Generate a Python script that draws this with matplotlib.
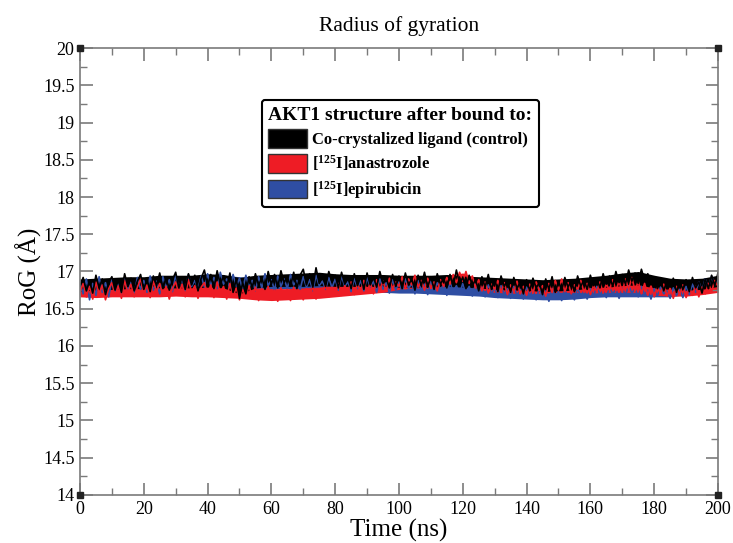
import numpy as np
import matplotlib
matplotlib.use("Agg")
import matplotlib.pyplot as plt
from matplotlib.patches import Patch
from matplotlib.ticker import MultipleLocator

plt.rcParams["font.family"] = ["Liberation Serif", "DejaVu Serif"]
plt.rcParams["mathtext.fontset"] = "custom"
plt.rcParams["mathtext.rm"] = "Liberation Serif"
plt.rcParams["mathtext.bf"] = "Liberation Serif:bold"

# --- DATA (RoG in Angstrom, one value per ns, 0..200 ns) ---
rog_control = [
    16.80, 16.92, 16.74, 16.88, 16.71, 16.95, 16.78, 16.90, 16.69, 16.86,
    16.93, 16.75, 16.89, 16.72, 16.97, 16.80, 16.91, 16.74, 16.87, 16.96,
    16.76, 16.90, 16.73, 16.94, 16.81, 16.98, 16.77, 16.92, 16.75, 16.89,
    16.99, 16.78, 16.93, 16.76, 16.97, 16.82, 16.95, 16.74, 16.91, 17.02,
    16.80, 16.96, 16.77, 17.01, 16.83, 16.94, 16.79, 16.98, 16.72, 16.90,
    16.64, 16.85, 16.70, 16.93, 16.78, 16.97, 16.81, 16.92, 16.76, 17.00,
    16.83, 16.96, 16.78, 17.01, 16.85, 16.93, 16.80, 16.99, 16.77, 16.95,
    17.03, 16.82, 16.97, 16.79, 17.05, 16.84, 16.96, 16.80, 17.00, 16.86,
    16.95, 16.78, 16.99, 16.83, 16.92, 16.77, 16.97, 16.81, 16.94, 16.76,
    16.98, 16.82, 16.93, 16.79, 17.00, 16.84, 16.91, 16.78, 16.96, 16.80,
    16.94, 16.77, 16.98, 16.82, 16.90, 16.75, 16.95, 16.81, 16.99, 16.79,
    16.93, 16.76, 16.97, 16.83, 16.91, 16.78, 16.96, 16.80, 17.02, 16.84,
    16.92, 16.77, 16.95, 16.81, 16.89, 16.74, 16.93, 16.79, 16.96, 16.76,
    16.90, 16.73, 16.94, 16.80, 16.88, 16.72, 16.92, 16.77, 16.86, 16.70,
    16.89, 16.74, 16.91, 16.78, 16.85, 16.69, 16.90, 16.76, 16.93, 16.72,
    16.87, 16.75, 16.92, 16.79, 16.88, 16.73, 16.94, 16.80, 16.89, 16.76,
    16.95, 16.81, 16.91, 16.78, 16.97, 16.83, 16.94, 16.80, 17.00, 16.85,
    16.96, 16.83, 17.02, 16.87, 16.98, 16.84, 17.03, 16.88, 16.97, 16.82,
    16.93, 16.77, 16.90, 16.74, 16.88, 16.79, 16.91, 16.72, 16.87, 16.76,
    16.89, 16.73, 16.92, 16.78, 16.86, 16.71, 16.90, 16.77, 16.95, 16.81,
    16.98,
]
rog_anastrozole = [
    16.72, 16.84, 16.66, 16.80, 16.63, 16.86, 16.70, 16.82, 16.62, 16.77,
    16.85, 16.68, 16.81, 16.64, 16.88, 16.71, 16.83, 16.66, 16.79, 16.90,
    16.69, 16.82, 16.65, 16.87, 16.73, 16.84, 16.67, 16.80, 16.63, 16.78,
    16.86, 16.70, 16.83, 16.66, 16.89, 16.72, 16.81, 16.64, 16.79, 16.85,
    16.69, 16.82, 16.65, 16.86, 16.71, 16.80, 16.63, 16.84, 16.67, 16.78,
    16.62, 16.76, 16.66, 16.81, 16.64, 16.79, 16.61, 16.77, 16.65, 16.80,
    16.63, 16.75, 16.60, 16.78, 16.64, 16.76, 16.61, 16.79, 16.66, 16.74,
    16.62, 16.77, 16.65, 16.80, 16.63, 16.76, 16.68, 16.82, 16.66, 16.79,
    16.70, 16.84, 16.68, 16.81, 16.72, 16.86, 16.69, 16.83, 16.74, 16.88,
    16.72, 16.85, 16.70, 16.89, 16.76, 16.87, 16.73, 16.91, 16.77, 16.86,
    16.80, 16.93, 16.77, 16.90, 16.82, 16.95, 16.79, 16.88, 16.75, 16.91,
    16.78, 16.86, 16.74, 16.89, 16.80, 16.92, 16.83, 16.96, 16.85, 16.99,
    16.87, 17.00, 16.84, 16.94, 16.78, 16.89, 16.74, 16.86, 16.71, 16.83,
    16.76, 16.88, 16.72, 16.85, 16.69, 16.82, 16.73, 16.87, 16.70, 16.80,
    16.68, 16.83, 16.71, 16.86, 16.74, 16.81, 16.67, 16.84, 16.72, 16.88,
    16.75, 16.90, 16.73, 16.85, 16.70, 16.82, 16.76, 16.88, 16.72, 16.84,
    16.69, 16.81, 16.73, 16.86, 16.71, 16.83, 16.75, 16.89, 16.74, 16.87,
    16.72, 16.90, 16.76, 16.92, 16.74, 16.87, 16.70, 16.84, 16.68, 16.81,
    16.66, 16.79, 16.70, 16.83, 16.67, 16.78, 16.64, 16.80, 16.69, 16.82,
    16.65, 16.77, 16.68, 16.81, 16.66, 16.79, 16.70, 16.84, 16.73, 16.88,
    16.80,
]
rog_epirubicin = [
    16.86, 16.70, 16.90, 16.62, 16.84, 16.68, 16.93, 16.72, 16.85, 16.66,
    16.89, 16.71, 16.83, 16.67, 16.91, 16.74, 16.86, 16.69, 16.92, 16.76,
    16.88, 16.72, 16.94, 16.75, 16.87, 16.70, 16.93, 16.77, 16.89, 16.73,
    16.95, 16.78, 16.90, 16.74, 16.96, 16.80, 16.88, 16.76, 16.94, 16.79,
    16.97, 16.81, 16.92, 16.77, 16.99, 16.83, 16.90, 16.78, 16.96, 16.80,
    16.91, 16.76, 16.95, 16.79, 16.88, 16.74, 16.93, 16.78, 16.97, 16.81,
    16.89, 16.75, 16.94, 16.80, 16.90, 16.77, 16.96, 16.82, 16.88, 16.76,
    16.93, 16.79, 16.89, 16.74, 16.95, 16.81, 16.87, 16.76, 16.92, 16.78,
    16.90, 16.75, 16.94, 16.80, 16.86, 16.73, 16.91, 16.77, 16.88, 16.74,
    16.92, 16.79, 16.87, 16.72, 16.90, 16.76, 16.85, 16.71, 16.89, 16.75,
    16.86, 16.73, 16.90, 16.77, 16.84, 16.70, 16.88, 16.74, 16.83, 16.69,
    16.87, 16.72, 16.85, 16.76, 16.82, 16.68, 16.86, 16.73, 16.81, 16.70,
    16.84, 16.71, 16.80, 16.67, 16.83, 16.72, 16.79, 16.66, 16.82, 16.70,
    16.78, 16.65, 16.81, 16.69, 16.77, 16.64, 16.80, 16.68, 16.76, 16.63,
    16.79, 16.67, 16.75, 16.62, 16.78, 16.66, 16.74, 16.60, 16.77, 16.65,
    16.73, 16.61, 16.76, 16.64, 16.72, 16.62, 16.78, 16.66, 16.74, 16.63,
    16.77, 16.67, 16.80, 16.69, 16.75, 16.65, 16.79, 16.70, 16.76, 16.64,
    16.78, 16.68, 16.81, 16.71, 16.77, 16.66, 16.80, 16.69, 16.75, 16.63,
    16.77, 16.67, 16.79, 16.70, 16.74, 16.64, 16.78, 16.68, 16.76, 16.65,
    16.80, 16.69, 16.83, 16.72, 16.86, 16.74, 16.90, 16.78, 16.94, 16.82,
    16.88,
]
time_ns = np.arange(len(rog_control))

# dense core of each trajectory (lower / upper edge every 5 ns)
band_time = np.arange(0, 201, 5)
control_lo = [16.74, 16.75, 16.76, 16.77, 16.77, 16.78, 16.78, 16.78, 16.79, 16.78,
              16.70, 16.78, 16.80, 16.80, 16.80, 16.81, 16.80, 16.80, 16.80, 16.80,
              16.79, 16.79, 16.79, 16.80, 16.79, 16.78, 16.76, 16.75, 16.75, 16.73,
              16.74, 16.75, 16.78, 16.79, 16.81, 16.82, 16.78, 16.76, 16.75, 16.76,
              16.80]
control_hi = [16.90, 16.91, 16.92, 16.93, 16.93, 16.95, 16.95, 16.95, 16.97, 16.96,
              16.92, 16.95, 16.96, 16.97, 16.98, 16.99, 16.97, 16.96, 16.96, 16.96,
              16.95, 16.95, 16.95, 16.96, 16.94, 16.93, 16.92, 16.91, 16.90, 16.89,
              16.90, 16.91, 16.93, 16.95, 16.98, 17.00, 16.95, 16.91, 16.90, 16.91,
              16.95]
anastrozole_lo = [16.66, 16.65, 16.66, 16.66, 16.66, 16.66, 16.67, 16.66, 16.66, 16.65,
                  16.64, 16.62, 16.61, 16.62, 16.63, 16.64, 16.66, 16.68, 16.70, 16.72,
                  16.76, 16.78, 16.77, 16.80, 16.82, 16.76, 16.72, 16.71, 16.70, 16.71,
                  16.72, 16.72, 16.71, 16.72, 16.72, 16.72, 16.68, 16.67, 16.67, 16.69,
                  16.72]
anastrozole_hi = [16.82, 16.82, 16.83, 16.84, 16.83, 16.83, 16.84, 16.83, 16.83, 16.82,
                  16.79, 16.78, 16.77, 16.77, 16.78, 16.79, 16.82, 16.84, 16.86, 16.88,
                  16.92, 16.93, 16.90, 16.95, 16.98, 16.90, 16.85, 16.84, 16.83, 16.85,
                  16.86, 16.85, 16.84, 16.85, 16.87, 16.88, 16.82, 16.80, 16.80, 16.83,
                  16.86]
epirubicin_lo = [16.68, 16.69, 16.70, 16.71, 16.72, 16.73, 16.74, 16.75, 16.77, 16.78,
                 16.76, 16.76, 16.76, 16.77, 16.76, 16.76, 16.75, 16.74, 16.73, 16.72,
                 16.71, 16.71, 16.70, 16.69, 16.68, 16.67, 16.65, 16.64, 16.63, 16.62,
                 16.62, 16.63, 16.65, 16.66, 16.66, 16.66, 16.66, 16.66, 16.69, 16.73,
                 16.76]
epirubicin_hi = [16.86, 16.86, 16.86, 16.88, 16.89, 16.90, 16.91, 16.92, 16.94, 16.95,
                 16.93, 16.92, 16.92, 16.93, 16.92, 16.92, 16.91, 16.90, 16.89, 16.88,
                 16.87, 16.87, 16.86, 16.85, 16.83, 16.82, 16.80, 16.79, 16.78, 16.77,
                 16.77, 16.78, 16.79, 16.80, 16.80, 16.80, 16.80, 16.81, 16.84, 16.88,
                 16.90]

labels = ["Co-crystalized ligand (control)",
          r"[$\mathbf{^{125}}$I]anastrozole",
          r"[$\mathbf{^{125}}$I]epirubicin"]
colors = ["#000000", "#ee1c25", "#2f4ea3"]

# --- PLOT ---
fig = plt.figure(figsize=(7.33, 5.43), dpi=100)
ax = fig.add_axes([0.1091, 0.0884, 0.8704, 0.8232])

# blue first, then red, black on top
series = [(rog_epirubicin, epirubicin_lo, epirubicin_hi, colors[2]),
          (rog_anastrozole, anastrozole_lo, anastrozole_hi, colors[1]),
          (rog_control, control_lo, control_hi, colors[0])]
for vals, lo, hi, c in series:
    ax.fill_between(band_time, lo, hi, color=c, lw=0)
    ax.plot(time_ns, vals, color=c, lw=1.2)

ax.set_xlim(0, 200)
ax.set_ylim(14, 20)
ax.xaxis.set_major_locator(MultipleLocator(20))
ax.xaxis.set_minor_locator(MultipleLocator(10))
ax.yaxis.set_major_locator(MultipleLocator(0.5))
ax.yaxis.set_minor_locator(MultipleLocator(0.25))
ax.set_yticklabels([f"{v:g}" for v in ax.get_yticks()])

grey = "#7a7a7a"
for sp in ax.spines.values():
    sp.set_color(grey)
    sp.set_linewidth(1.2)
ax.tick_params(which="both", direction="in", top=True, right=True,
               color=grey, labelsize=13, pad=4)
ax.tick_params(which="major", length=9, width=1.2)
ax.tick_params(which="minor", length=5, width=1.0)

# little corner squares
ax.plot([0, 1, 0, 1], [0, 0, 1, 1], "s", color="#222222", ms=4,
        transform=ax.transAxes, clip_on=False, zorder=5)

ax.set_title("Radius of gyration", fontsize=15.5, pad=12)
ax.set_xlabel("Time (ns)", fontsize=18, labelpad=1)
ax.set_ylabel("RoG (Å)", fontsize=18, labelpad=1)

handles = [Patch(facecolor=c, edgecolor="#333333") for c in colors]
leg = ax.legend(handles, labels, loc="upper left",
                bbox_to_anchor=(0.285, 0.884),
                title="AKT1 structure after bound to:",
                title_fontproperties={"weight": "bold", "size": 14},
                prop={"weight": "bold", "size": 12},
                alignment="left", fancybox=True, framealpha=1,
                edgecolor="black", handlelength=2.3, handleheight=1.35,
                handletextpad=0.3, labelspacing=0.33, borderpad=0.4,
                borderaxespad=0)
leg.get_frame().set_linewidth(1.5)

fig.savefig("out.png", dpi=100)
